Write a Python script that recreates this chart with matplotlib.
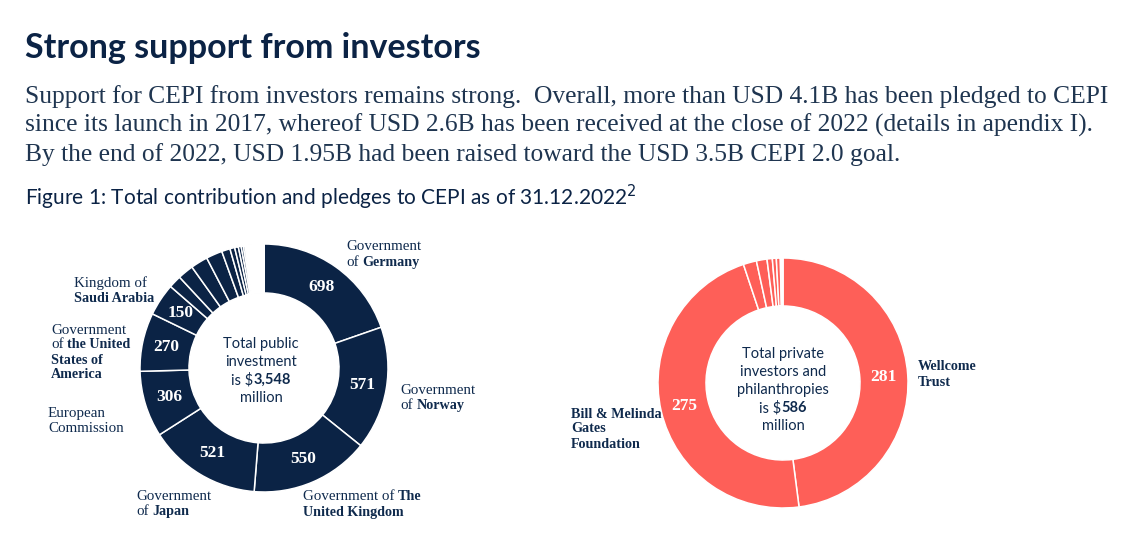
import numpy as np
import matplotlib.pyplot as plt

# public investors (USD million), clockwise from 12 o'clock
public_names = ["Government of Germany", "Government of Norway",
                "Government of The United Kingdom", "Government of Japan",
                "European Commission", "Government of the United States of America",
                "Kingdom of Saudi Arabia"]
public_values = [698, 571, 550, 521, 306, 270, 150]
# other smaller public donors
public_small = [59, 73, 79, 75, 39, 22, 17, 13, 10, 8, 5, 4] + [1] * 78

# private investors and philanthropies (USD million)
private_names = ["Wellcome Trust", "Bill & Melinda Gates Foundation"]
private_values = [281, 275]
private_small = [10, 8, 4, 3, 3, 1, 1]

total_public = 3548
total_private = 586

NAVY = "#0b2345"
CORAL = "#fe5f58"
TXT = "#0f2a4d"

W, H = 1132, 555
fig = plt.figure(figsize=(W / 100, H / 100), dpi=100)
ax = fig.add_axes([0, 0, 1, 1])
renderer = fig.canvas.get_renderer()


def donut(vals, n_named, cx, cy, r, width, color):
    wedges, _ = ax.pie(vals, center=(cx, H - cy), radius=r, startangle=90,
                       counterclock=False, colors=[color] * len(vals),
                       wedgeprops=dict(width=width, edgecolor="white", linewidth=1.1))
    # value labels on the named slices
    for w, v in zip(wedges[:n_named], vals[:n_named]):
        ang = np.deg2rad((w.theta1 + w.theta2) / 2)
        rm = r - width / 2
        ax.text(cx + rm * np.cos(ang), H - cy + rm * np.sin(ang), str(v),
                ha="center", va="center", color="white", fontsize=12.5,
                fontweight="bold", family="Liberation Serif")
    return wedges


def line_parts(x, y, parts, size, family, ha="left", bold_size=None):
    # one line of text made of normal / bold pieces; a trailing space in a piece adds a gap
    objs, gaps = [], []
    sp = size * 100 / 72 * 0.25
    for s, bold in parts:
        fs = bold_size if (bold and bold_size) else size
        objs.append(ax.text(0, H - y, s.rstrip(), fontsize=fs, color=TXT, family=family,
                            fontweight="bold" if bold else "normal", va="center", ha="left"))
        gaps.append(sp if s.endswith(" ") else 0)
    widths = [t.get_window_extent(renderer).width for t in objs]
    total = sum(widths) + sum(gaps[:-1])
    start = x - total / 2 if ha == "center" else x
    for t, wd, g in zip(objs, widths, gaps):
        t.set_x(start)
        start += wd + g


def label(x, y, lines, dy=15.5):
    for i, parts in enumerate(lines):
        line_parts(x, y + i * dy, parts, 10.8, "Liberation Serif", bold_size=10.2)


def center_lines(x, y0, lines, dy=18, size=10.5):
    for i, parts in enumerate(lines):
        line_parts(x, y0 + i * dy, parts, size, "Lato", ha="center")


# left donut
donut(public_values + public_small, len(public_values), 264, 368, 124, 49, NAVY)
# right donut
donut(private_values + private_small, len(private_values), 783, 383, 125, 48, CORAL)

ax.set_xlim(0, W)
ax.set_ylim(0, H)
ax.set_aspect("equal")
ax.axis("off")

# labels around the left donut
label(346, 247, [[("Government", False)], [("of ", False), ("Germany", True)]])
label(400, 390, [[("Government", False)], [("of ", False), ("Norway", True)]])
label(303, 497, [[("Government of ", False), ("The", True)], [("United Kingdom", True)]])
label(136, 496, [[("Government", False)], [("of ", False), ("Japan", True)]])
label(48, 413, [[("European", False)], [("Commission", False)]])
label(51, 330, [[("Government", False)], [("of ", False), ("the United", True)],
                [("States of", True)], [("America", True)]], dy=15)
label(74, 283, [[("Kingdom of", False)], [("Saudi Arabia", True)]])

# labels around the right donut
label(918, 367, [[("Wellcome", True)], [("Trust", True)]], dy=15)
label(571, 414, [[("Bill & Melinda", True)], [("Gates", True)], [("Foundation", True)]], dy=15)

center_lines(261, 344, [[("Total public", False)], [("investment", False)],
                        [("is $", False), (f"{total_public:,}", True)], [("million", False)]])
center_lines(783, 354, [[("Total private", False)], [("investors and", False)],
                        [("philanthropies", False)],
                        [("is $", False), (f"{total_private}", True)], [("million", False)]])

# header text
fig.text(25 / W, 1 - 58 / H, "Strong support from investors", fontsize=24.5, fontweight="bold",
         color="#0b2345", family="Lato")
body = ["Support for CEPI from investors remains strong.  Overall, more than USD 4.1B has been pledged to CEPI",
        "since its launch in 2017, whereof USD 2.6B has been received at the close of 2022 (details in apendix I).",
        "By the end of 2022, USD 1.95B had been raised toward the USD 3.5B CEPI 2.0 goal."]
for i, line in enumerate(body):
    fig.text(25 / W, 1 - (103 + i * 29) / H, line, fontsize=18.4, color="#1f3550",
             family="Liberation Serif")
fig.text(25 / W, 1 - 205 / H, "Figure 1: Total contribution and pledges to CEPI as of 31.12.2022$^2$",
         fontsize=15, color="#0b2345", family="Lato")

fig.savefig("out.png", dpi=100)
